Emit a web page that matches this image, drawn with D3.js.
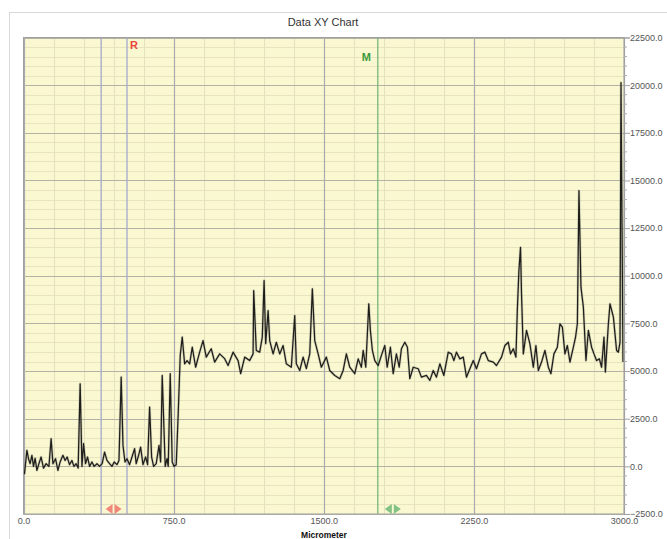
<!DOCTYPE html>
<html><head><meta charset="utf-8">
<script src="https://cdn.jsdelivr.net/npm/d3@7"></script>
<style>
html,body{margin:0;padding:0;background:#fff;}
svg{display:block;font-family:"Liberation Sans",Arial,sans-serif;}
</style></head>
<body>
<svg id="chart" width="667" height="539"></svg>
<script>
// ---- data (micrometer, signal) ----
const positions = [0,5,17,25,33,42,50,58,67,77,88,100,113,127,138,147,160,172,183,197,208,218,230,242,252,263,273,283,292,300,310,320,330,342,353,367,380,393,405,417,430,442,453,467,477,488,497,507,517,530,542,555,563,575,585,597,610,620,630,640,650,663,677,685,693,702,708,717,723,733,743,752,763,773,783,793,805,817,830,843,860,880,897,913,938,955,980,1005,1022,1047,1072,1085,1105,1130,1147,1150,1163,1180,1193,1202,1210,1222,1230,1247,1263,1280,1297,1313,1338,1355,1363,1380,1397,1413,1430,1443,1455,1472,1488,1513,1530,1555,1580,1597,1613,1630,1655,1672,1688,1697,1710,1725,1733,1743,1755,1772,1788,1805,1817,1833,1847,1863,1877,1888,1905,1918,1930,1947,1972,1988,2013,2030,2047,2063,2080,2100,2122,2138,2150,2163,2180,2197,2213,2230,2247,2263,2288,2305,2322,2347,2363,2388,2405,2422,2433,2447,2460,2467,2475,2483,2488,2497,2513,2530,2547,2560,2572,2588,2605,2622,2635,2650,2667,2680,2692,2705,2717,2730,2747,2758,2767,2775,2785,2797,2810,2822,2838,2850,2863,2877,2888,2900,2907,2922,2930,2947,2955,2963,2972,2980,2985,2995];
const signal = [-300,-380,840,400,140,580,0,420,-210,140,490,-90,140,0,1450,140,400,-210,230,580,310,490,90,310,0,140,-90,4330,0,1190,140,490,0,230,0,140,0,140,750,310,140,0,230,90,310,4680,1100,230,400,90,490,930,140,580,1010,90,490,90,3110,490,0,140,1100,230,4770,1890,0,400,0,4860,230,0,90,2790,5820,6780,5380,5550,5380,6250,5200,5990,6600,5730,6170,5470,5900,5650,5290,5990,5550,4860,5730,5550,5900,9220,6080,5990,6780,9750,6440,8170,6600,5900,6510,5900,6340,5380,5200,7910,5380,5030,5730,5130,5900,9310,6600,5900,5200,5730,5030,4770,4600,5030,5900,5200,4860,5640,5200,6080,5200,8530,7130,6080,5550,5290,5820,6340,5200,6250,4860,5900,5200,6170,6510,6250,4600,5200,5120,4680,4770,4510,5030,4680,5380,4770,5990,5900,5550,5990,5640,5730,4680,5120,5550,5120,5900,5990,5550,5470,5290,5730,6340,6510,5900,6170,5730,8170,10270,11490,9050,5900,7130,6430,5200,6340,5030,5470,6080,5200,4860,5900,6250,7480,7310,5900,6340,5470,6250,6780,7480,14460,9400,8350,5550,7130,6250,5900,5550,5640,5200,6780,4950,7480,8530,7830,6950,6080,5990,6500,20130,5470];
const xTicks = [0,750,1500,2250,3000];
const yTicks = [-2500,0,2500,5000,7500,10000,12500,15000,17500,20000,22500];
const cursorR = [388,517];
const cursorM = 1770;
const title = "Data XY Chart";
const xTitle = "Micrometer";

// ---- layout ----
const svg = d3.select("#chart");
const L = 23.5, R = 624, T = 37.5, B = 514;
const x = d3.scaleLinear().domain([0,3000]).range([L,R]);
const y = d3.scaleLinear().domain([-2500,22500]).range([B,T]);

// outer frame
svg.append("rect").attr("x",9.5).attr("y",12.5).attr("width",700).attr("height",600)
  .attr("fill","#fff").attr("stroke","#d9d9d9").attr("stroke-width",1);

// plot background
svg.append("rect").attr("x",L).attr("y",T).attr("width",R-L).attr("height",B-T)
  .attr("fill","#faf8d1");

const g = svg.append("g");
// minor grid
const minorX = d3.range(0,3001,150).filter(v=>v%750!==0);
const minorY = d3.range(-2500,22501,500).filter(v=>v%2500!==0);
g.selectAll(".mx").data(minorX).join("line")
  .attr("x1",d=>Math.round(x(d))+0.5).attr("x2",d=>Math.round(x(d))+0.5).attr("y1",T).attr("y2",B)
  .attr("stroke","#e4e1bf").attr("stroke-width",1);
g.selectAll(".my").data(minorY).join("line")
  .attr("y1",d=>Math.round(y(d))+0.5).attr("y2",d=>Math.round(y(d))+0.5).attr("x1",L).attr("x2",R)
  .attr("stroke","#e8e4bf").attr("stroke-width",1);
// major grid
g.selectAll(".MX").data(xTicks).join("line")
  .attr("x1",d=>Math.round(x(d))+0.5).attr("x2",d=>Math.round(x(d))+0.5).attr("y1",T).attr("y2",B)
  .attr("stroke","#a9a9b0").attr("stroke-width",1.2);
g.selectAll(".MY").data(yTicks).join("line")
  .attr("y1",d=>Math.round(y(d))+0.5).attr("y2",d=>Math.round(y(d))+0.5).attr("x1",L).attr("x2",R)
  .attr("stroke","#b4b2a4").attr("stroke-width",1.2);

// cursors
g.selectAll(".cr").data(cursorR).join("line")
  .attr("x1",d=>x(d)).attr("x2",d=>x(d)).attr("y1",T).attr("y2",B)
  .attr("stroke","#a4a8cc").attr("stroke-width",1.3);
g.append("line").attr("x1",x(cursorM)).attr("x2",x(cursorM)).attr("y1",T).attr("y2",B)
  .attr("stroke","#78b878").attr("stroke-width",1.3);

// trace
const pts = positions.map((p,i)=>[p,signal[i]]);
const line = d3.line().x(d=>x(d[0])).y(d=>y(d[1]));
g.append("path").datum(pts).attr("d",line).attr("fill","none")
  .attr("stroke","#8a8a80").attr("stroke-width",2.6).attr("stroke-opacity",0.35).attr("stroke-linejoin","round");
g.append("path").datum(pts).attr("d",line).attr("fill","none")
  .attr("stroke","#1e1e1a").attr("stroke-width",1.25).attr("stroke-linejoin","round");

// plot border
svg.append("rect").attr("x",L).attr("y",T).attr("width",R-L).attr("height",B-T)
  .attr("fill","none").attr("stroke","#a0a0a0").attr("stroke-width",1);

// cursor labels
svg.append("text").attr("x",x(cursorR[1])+3).attr("y",49).text("R")
  .attr("fill","#e8453c").attr("font-weight","bold").attr("font-size",11);
svg.append("text").attr("x",x(cursorM)-16).attr("y",61).text("M")
  .attr("fill","#3c9a3c").attr("font-weight","bold").attr("font-size",11);

// cursor arrows at bottom
function arrows(cx, color){
  const yc = 509, w = 7, h = 5;
  svg.append("path").attr("d",`M${cx-1},${yc-h}L${cx-1-w},${yc}L${cx-1},${yc+h}Z`).attr("fill",color);
  svg.append("path").attr("d",`M${cx+1},${yc-h}L${cx+1+w},${yc}L${cx+1},${yc+h}Z`).attr("fill",color);
}
arrows(x((cursorR[0]+cursorR[1])/2)-0.5, "#f2887a");
arrows(x(cursorM)+15, "#82c282");

// right axis
const yAxis = d3.axisRight(y).tickValues(yTicks).tickSize(6).tickFormat(d=>d3.format(".1f")(d));
const ya = svg.append("g").attr("transform",`translate(${R},0)`).call(yAxis);
ya.select(".domain").attr("stroke","#a0a0a0");
ya.selectAll(".tick line").attr("stroke","#a0a0a0");
ya.selectAll("text").attr("fill","#555").attr("font-size",9).attr("x",6);
svg.selectAll(".ymin").data(minorY).join("line")
  .attr("x1",R).attr("x2",R+3).attr("y1",d=>y(d)).attr("y2",d=>y(d)).attr("stroke","#b0b0b0");

// bottom axis labels
const xAxis = d3.axisBottom(x).tickValues(xTicks).tickSize(0).tickFormat(d=>d3.format(".1f")(d));
const xa = svg.append("g").attr("transform",`translate(0,${B})`).call(xAxis);
xa.select(".domain").remove();
xa.selectAll("text").attr("fill","#555").attr("font-size",9).attr("dy","0.71em").attr("y",4);

// titles
svg.append("text").attr("x",323).attr("y",26).attr("text-anchor","middle").text(title)
  .attr("fill","#333").attr("font-size",11);
svg.append("text").attr("x",324).attr("y",538).attr("text-anchor","middle").text(xTitle)
  .attr("fill","#111").attr("font-size",8.5).attr("font-weight","bold");
</script>
</body></html>
